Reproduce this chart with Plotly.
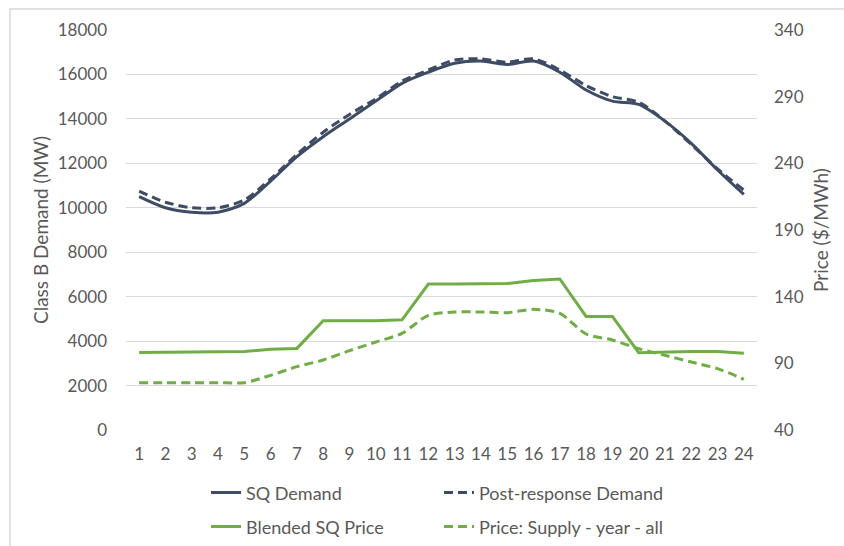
import plotly.graph_objects as go

hours = [str(h) for h in range(1, 25)]
sq_demand = [10500, 10000, 9800, 9800, 10200, 11200, 12300, 13200, 14000, 14800, 15600, 16100,
             16500, 16600, 16450, 16600, 16100, 15300, 14800, 14650, 13900, 12900, 11700, 10600]
post_demand = [10750, 10250, 10000, 10000, 10350, 11300, 12400, 13400, 14200, 14900, 15700, 16200,
               16650, 16700, 16550, 16700, 16200, 15500, 15000, 14750, 13900, 12850, 11750, 10800]
blended_price = [98.2, 98.3, 98.6, 98.8, 98.8, 100.5, 101.2, 122.0, 122.0, 122.0, 122.6, 149.5,
                 149.5, 149.5, 149.8, 152.2, 153.3, 125.2, 125.2, 98.0, 98.5, 98.8, 98.8, 97.6]
supply_price = [75.5, 75.5, 75.5, 75.5, 75.5, 81.0, 87.5, 92.5, 99.5, 106.0, 112.5, 126.0,
                128.5, 128.5, 128.0, 130.5, 127.5, 112.0, 107.5, 101.0, 96.0, 91.0, 86.0, 78.0]

left_ticks = list(range(0, 18001, 2000))
right_ticks = list(range(40, 341, 50))

NAVY = "#3E4B64"
GREEN = "#70AD47"
TXT = "#595959"
FONT = "Lato, Open Sans, sans-serif"
TICK = 17
TITLE = 19
LEG = 18

fig = go.Figure()
fig.add_trace(go.Scatter(x=hours, y=sq_demand, name="SQ Demand", mode="lines",
                         line=dict(color=NAVY, width=3, shape="spline", smoothing=0.8),
                         legend="legend"))
fig.add_trace(go.Scatter(x=hours, y=post_demand, name="Post-response Demand", mode="lines",
                         line=dict(color=NAVY, width=3, dash="9px,5px", shape="spline", smoothing=0.8),
                         legend="legend"))
fig.add_trace(go.Scatter(x=hours, y=blended_price, name="Blended SQ Price", mode="lines",
                         line=dict(color=GREEN, width=3), yaxis="y2", legend="legend2"))
fig.add_trace(go.Scatter(x=hours, y=supply_price, name="Price: Supply - year - all", mode="lines",
                         line=dict(color=GREEN, width=3, dash="9px,5px", shape="spline", smoothing=0.8),
                         yaxis="y2", legend="legend2"))

leg_common = dict(orientation="h", xanchor="left", yanchor="middle", x=0.1268,
                  entrywidth=188, entrywidthmode="pixels",
                  font=dict(family=FONT, size=LEG, color=TXT), bgcolor="rgba(0,0,0,0)",
                  itemwidth=30)

fig.update_layout(
    width=844, height=546,
    margin=dict(l=126, r=87, t=30, b=116, autoexpand=False),
    paper_bgcolor="white", plot_bgcolor="white",
    font=dict(family=FONT, size=TICK, color=TXT),
    showlegend=True,
    legend=dict(**leg_common, y=-0.157),
    legend2=dict(**leg_common, y=-0.242),
    xaxis=dict(type="category", range=[-0.5, 23.5], showgrid=False, showline=False,
               zeroline=False, ticks="", ticklabelstandoff=12, automargin=False,
               tickfont=dict(family=FONT, size=TICK, color=TXT)),
    yaxis=dict(range=[0, 18000], tickvals=left_ticks, tickformat="d", showgrid=True,
               gridcolor="#D9D9D9", gridwidth=1, zeroline=False, showline=False, ticks="",
               ticklabelstandoff=18, automargin=False,
               tickfont=dict(family=FONT, size=TICK, color=TXT),
               title=dict(text="Class B Demand (MW)", standoff=4,
                          font=dict(family=FONT, size=TITLE, color=TXT))),
    yaxis2=dict(range=[40, 340], tickvals=right_ticks, tickformat="d", overlaying="y",
                side="right", showgrid=False, zeroline=False, showline=False, ticks="",
                ticklabelstandoff=16, automargin=False,
                tickfont=dict(family=FONT, size=TICK, color=TXT),
                title=dict(text="Price ($/MWh)", standoff=11,
                           font=dict(family=FONT, size=TITLE, color=TXT))),
    shapes=[dict(type="rect", xref="paper", yref="paper",
                 x0=-0.1838, x1=1.5, y0=-0.5, y1=1.0525,
                 line=dict(color="#D9D9D9", width=1.5), fillcolor="rgba(0,0,0,0)", layer="below")],
)

fig.write_html("out.html", config={"displayModeBar": False},
               post_script="document.body.style.margin='0px';")
